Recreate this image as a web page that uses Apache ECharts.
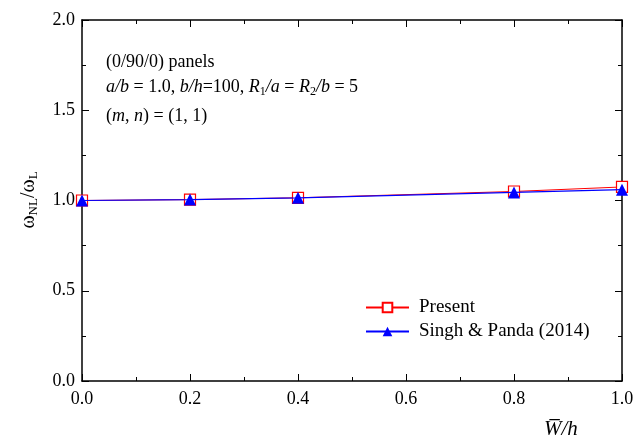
<!DOCTYPE html>
<html>
<head>
<meta charset="utf-8">
<script src="https://cdn.jsdelivr.net/npm/echarts@6/dist/echarts.min.js"></script>
<style>
  html, body { margin: 0; padding: 0; background: #fff; }
  #chart { width: 642px; height: 443px; }
</style>
</head>
<body>
<div id="chart"></div>
<script>
// deflection ratio W/h
const ratios = [0.0, 0.2, 0.4, 0.8, 1.0]
// frequency ratio, present study
const present = [1.0, 1.005, 1.015, 1.05, 1.075]
// frequency ratio, Singh & Panda (2014)
const singhPanda = [1.0, 1.005, 1.015, 1.045, 1.06]
const xTicks = [0.0, 0.2, 0.4, 0.6, 0.8, 1.0]
const yTicks = [0.0, 0.5, 1.0, 1.5, 2.0]

const font = 'Liberation Serif, Times New Roman, serif'

const chart = echarts.init(document.getElementById('chart'))

const axisCommon = {
  axisLine: { show: true, onZero: false, lineStyle: { color: '#000', width: 1.5 } },
  axisTick: { show: true, inside: true, length: 7, lineStyle: { color: '#000' } },
  minorTick: { show: true, splitNumber: 2, length: 4, lineStyle: { color: '#000' } },
  splitLine: { show: false }
}

chart.setOption({
  animation: false,
  textStyle: { fontFamily: font },
  grid: { left: 82, right: 20, top: 20, bottom: 62 },
  legend: {
    left: 365,
    top: 298,
    padding: 0,
    orient: 'vertical',
    itemWidth: 43,
    itemHeight: 12,
    itemGap: 5,
    textStyle: { fontFamily: font, fontSize: 19, color: '#000', padding: [0, 0, 0, 5] },
    data: ['Present', 'Singh & Panda (2014)']
  },
  xAxis: [
    Object.assign({}, axisCommon, {
      type: 'value', min: 0, max: 1, interval: 0.2,
      axisLabel: {
        color: '#000', fontFamily: font, fontSize: 18, margin: 9,
        formatter: v => v.toFixed(1)
      }
    }),
    Object.assign({}, axisCommon, {
      type: 'value', position: 'top', min: 0, max: 1, interval: 0.2,
      axisLabel: { show: false }
    })
  ],
  yAxis: [
    Object.assign({}, axisCommon, {
      type: 'value', min: 0, max: 2, interval: 0.5,
      axisLabel: {
        color: '#000', fontFamily: font, fontSize: 18, margin: 7,
        formatter: v => v.toFixed(1)
      }
    }),
    Object.assign({}, axisCommon, {
      type: 'value', position: 'right', min: 0, max: 2, interval: 0.5,
      axisLabel: { show: false }
    })
  ],
  series: [
    {
      name: 'Present',
      type: 'line',
      data: ratios.map((x, i) => [x, present[i]]),
      symbol: 'rect',
      symbolSize: 11,
      lineStyle: { color: '#ff0000', width: 1 },
      itemStyle: { color: '#fff', borderColor: '#ff0000', borderWidth: 1.2 },
      z: 2
    },
    {
      name: 'Singh & Panda (2014)',
      type: 'line',
      data: ratios.map((x, i) => [x, singhPanda[i]]),
      symbol: 'triangle',
      symbolSize: 12,
      lineStyle: { color: '#0000ff', width: 1.2 },
      itemStyle: { color: '#0000ff' },
      z: 3
    }
  ],
  graphic: [
    {
      type: 'text', left: 106, top: 53,
      style: { text: '(0/90/0) panels', font: '18px ' + font, fill: '#000' }
    },
    {
      type: 'text', left: 106, top: 78,
      style: {
        text: '{i|a/b} = 1.0, {i|b/h}=100, {i|R}{s|1}{i|/a} = {i|R}{s|2}{i|/b} = 5',
        font: '18px ' + font, fill: '#000',
        rich: {
          i: { fontStyle: 'italic', fontFamily: font, fontSize: 18 },
          s: { fontFamily: font, fontSize: 12, padding: [9, 0, 0, 0] }
        }
      }
    },
    {
      type: 'text', left: 106, top: 107,
      style: {
        text: '({i|m}, {i|n}) = (1, 1)',
        font: '18px ' + font, fill: '#000',
        rich: { i: { fontStyle: 'italic', fontFamily: font, fontSize: 18 } }
      }
    },
    {
      type: 'text', x: 29, y: 200, rotation: Math.PI / 2,
      style: {
        text: 'ω{s|NL}/ω{s|L}',
        font: '20px ' + font, fill: '#000',
        align: 'center', verticalAlign: 'middle',
        rich: { s: { fontFamily: font, fontSize: 13, padding: [10, 0, 0, 0] } }
      }
    },
    {
      type: 'text', left: 544, top: 419,
      style: { text: 'W\u0305/h', font: 'italic 21px ' + font, fill: '#000' }
    }
  ]
})
</script>
</body>
</html>
